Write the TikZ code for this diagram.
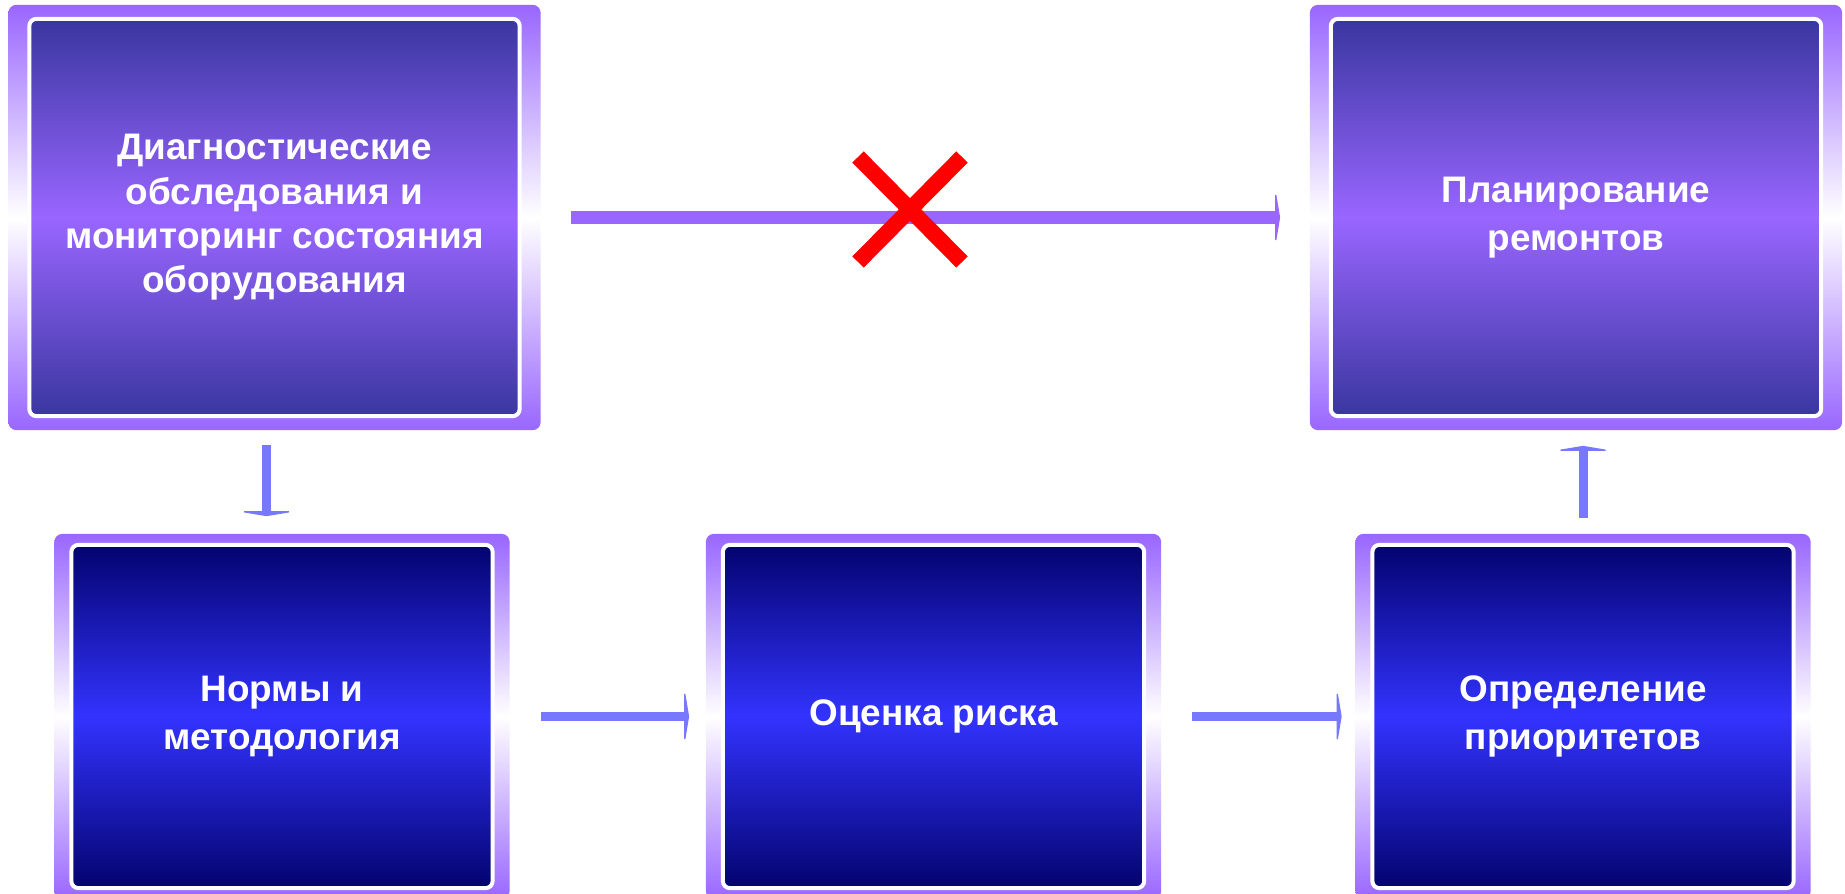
\documentclass[tikz,border=0pt]{standalone}
\usepackage{fontspec}
\setmainfont{Liberation Sans}
\usepackage{xcolor}
\usepackage{tikz}
\usetikzlibrary{arrows.meta}

\definecolor{lilac}{HTML}{9966FF}
\definecolor{duskblue}{HTML}{333399}
\definecolor{inkblue}{HTML}{000066}
\definecolor{brightblue}{HTML}{3333FF}
\definecolor{arrowblue}{HTML}{7878FF}

\tikzset{
  stagebox/.style={rectangle, inner sep=0pt, rounded corners=0.08cm,
    top color=lilac, bottom color=lilac, middle color=white,
    text=white, align=center,
    font=\fontsize{10.5}{12.6}\selectfont\bfseries},
  wideleading/.style={font=\fontsize{10.5}{13.6}\selectfont\bfseries},
  topbox/.style={stagebox, minimum width=5.32cm, minimum height=4.25cm,
    path picture={\shadedraw[draw=white, line width=0.04cm, rounded corners=0.07cm,
      top color=duskblue, bottom color=duskblue, middle color=lilac]
      ([shift={(21,14)}]path picture bounding box.north west) rectangle
      ([shift={(-21,-14)}]path picture bounding box.south east);}},
  lowbox/.style={stagebox, wideleading, minimum width=4.55cm, minimum height=3.65cm,
    path picture={\shadedraw[draw=white, line width=0.04cm, rounded corners=0.07cm,
      top color=inkblue, bottom color=inkblue, middle color=brightblue]
      ([shift={(17,11)}]path picture bounding box.north west) rectangle
      ([shift={(-17,-11)}]path picture bounding box.south east);}},
  flow/.style={draw=arrowblue, line width=0.09cm,
    -{Triangle[width=0.6cm,length=0.05cm]}}
}

\begin{document}
\begin{tikzpicture}[x=0.01cm,y=-0.01cm]
      \useasboundingbox (0,0) rectangle (1845,894);
      \fill[white] (0,0) rectangle (1845,894);
      \clip (0,0) rectangle (1845,894);

      \node[topbox] (diag) at (274.5,217.5) {Диагностические\\обследования и\\мониторинг состояния\\оборудования};
      \node[topbox, wideleading] (plan) at (1576,217.5) {Планирование\\ремонтов};
      \node[lowbox] (norm) at (282,716.5) {Нормы и\\методология};
      \node[lowbox] (risk) at (933.5,716.5) {Оценка риска};
      \node[lowbox] (prior) at (1583,716.5) {Определение\\приоритетов};

      \draw[flow, draw=lilac, line width=0.12cm, shorten <=0.30cm, shorten >=0.29cm] (diag) -- (plan);
      \draw[flow, shorten <=0.14cm, shorten >=0.17cm] ([xshift=-0.08cm]diag.south) -- ([xshift=-0.08cm]diag.south |- norm.north);
      \draw[flow, shorten <=0.31cm, shorten >=0.16cm] (norm) -- (risk);
      \draw[flow, shorten <=0.30cm, shorten >=0.13cm] (risk) -- (prior);
      \draw[flow, shorten <=0.15cm, shorten >=0.15cm] (prior.north) -- (prior.north |- plan.south);

      % the broken link
      \coordinate (cut) at (910,210);
      \draw[red, line width=0.16cm] ([shift={(-52,-53)}]cut) -- ([shift={(52,52)}]cut);
      \draw[red, line width=0.16cm] ([shift={(-52,52)}]cut) -- ([shift={(52,-53)}]cut);
    \end{tikzpicture}
\end{document}
